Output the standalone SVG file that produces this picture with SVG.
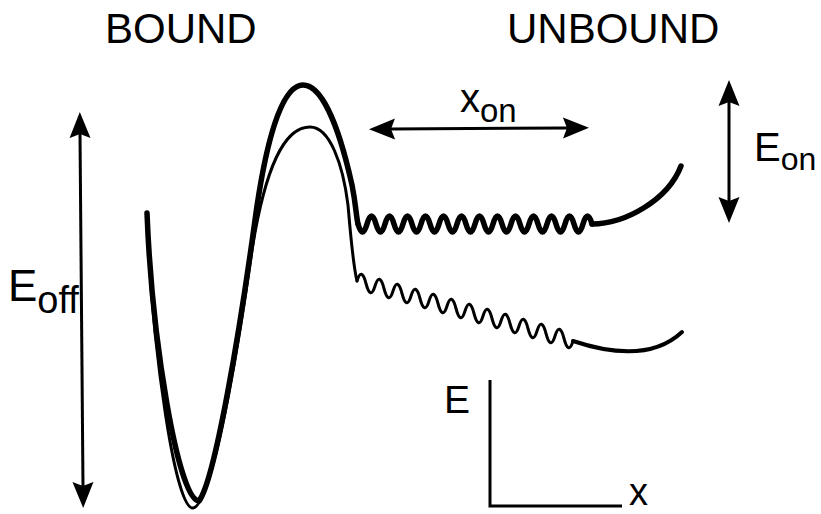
<svg xmlns="http://www.w3.org/2000/svg" width="821" height="514" viewBox="0 0 821 514">
<style>
  .lbl { font-family: "Liberation Sans", Arial, sans-serif; fill: #000; }
  .thick { fill: none; stroke: #000; stroke-width: 5.5; stroke-linecap: round; stroke-linejoin: round; }
  .thin { fill: none; stroke: #000; stroke-width: 3; stroke-linecap: round; stroke-linejoin: round; }
  .mid { fill: none; stroke: #000; stroke-width: 4; stroke-linecap: round; }
  .arr { fill: none; stroke: #000; stroke-width: 3; }
</style>
<defs>
  <marker id="ah" markerUnits="userSpaceOnUse" markerWidth="30" markerHeight="24" viewBox="0 -12 30 24" refX="4" refY="0" orient="auto-start-reverse">
    <path d="M0,-10.5 L26,0 L0,10.5 L4,0 Z" fill="#000"/>
  </marker>
</defs>
<rect width="821" height="514" fill="#fff"/>

<g id="title-bound"><text class="lbl" x="105" y="43" font-size="42">BOUND</text></g>
<g id="title-unbound"><text class="lbl" x="507" y="43" font-size="42">UNBOUND</text></g>

<g id="curve-bound-thick">
  <path class="thick" d="M147,213 C152,340 178,500 199,501 C215,480 240,330 255,220 C268,125 285,85 303,85 C325,85 342,140 352,185 C356,205 356,215 358,224"/>
</g>
<g id="curve-bound-thin">
  <path class="thin" d="M148,235 C153,350 175,510 193,508 C212,506 238,350 252,250 C268,150 290,127 310,127 C330,127 343,165 348,205 C351,240 353,265 357,281"/>
</g>
<g id="wave-upper">
  <path class="thick" d="M358,224 q4.5,16 9,0 t9,0 t9,0 t9,0 t9,0 t9,0 t9,0 t9,0 t9,0 t9,0 t9,0 t9,0 t9,0 t9,0 t9,0 t9,0 t9,0 t9,0 t9,0 t9,0 t9,0 t9,0 t9,0 t9,0 t9,0 t9,0"/>
  <path class="thick" d="M592,224 C625,224 668,200 681,166"/>
</g>
<g id="wave-lower">
  <path class="thin" d="M357,281 q4.5,-14.75 9,2.5 t9,2.5 t9,2.5 t9,2.5 t9,2.5 t9,2.5 t9,2.5 t9,2.5 t9,2.5 t9,2.5 t9,2.5 t9,2.5 t9,2.5 t9,2.5 t9,2.5 t9,2.5 t9,2.5 t9,2.5 t9,2.5 t9,2.5 t9,2.5 t9,2.5 t9,2.5 t9,2.5"/>
  <path class="mid" d="M573,341 C600,350 650,362 682,332"/>
</g>

<g id="connectors">
  <line class="arr" x1="80" y1="134" x2="83" y2="486" marker-start="url(#ah)" marker-end="url(#ah)"/>
  <line class="arr" x1="391" y1="129" x2="567" y2="128" marker-start="url(#ah)" marker-end="url(#ah)"/>
  <line class="arr" x1="729" y1="102" x2="729" y2="201" marker-start="url(#ah)" marker-end="url(#ah)"/>
  <path class="arr" stroke-width="3.5" d="M490,380 L490,506 L622,506"/>
</g>

<g id="label-eoff"><text class="lbl" x="8" y="301" font-size="44">E<tspan font-size="38" dy="12">off</tspan></text></g>
<g id="label-xon"><text class="lbl" x="460" y="112" font-size="40">x<tspan font-size="33" dy="10">on</tspan></text></g>
<g id="label-eon"><text class="lbl" x="754" y="161" font-size="40">E<tspan font-size="32" dy="9">on</tspan></text></g>
<g id="label-e"><text class="lbl" x="444" y="413" font-size="39">E</text></g>
<g id="label-x"><text class="lbl" x="629" y="505" font-size="38">x</text></g>
</svg>
